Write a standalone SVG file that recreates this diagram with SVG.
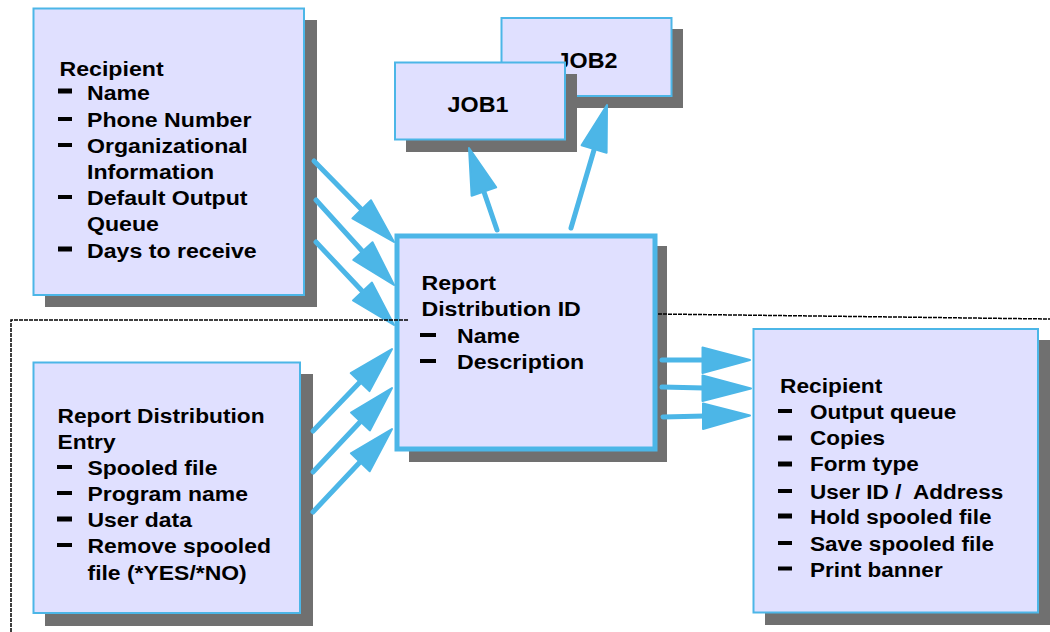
<svg xmlns="http://www.w3.org/2000/svg" width="1050" height="632" viewBox="0 0 1050 632">
<style>
.shadow{fill:#707070}
.box{fill:#E0E0FF;stroke:#4CB6E7;stroke-width:2}
.boxc{fill:#E0E0FF;stroke:#4CB6E7;stroke-width:5}
.t{font-family:"Liberation Sans",Arial,Helvetica,sans-serif;font-weight:bold;font-size:20.3px;fill:#000}
.tj{font-family:"Liberation Sans",Arial,Helvetica,sans-serif;font-weight:bold;font-size:22px;fill:#000}
.dash{fill:#000}
.ln{stroke:#4CB6E7;stroke-width:5;stroke-linecap:round;fill:none}
.hd{fill:#4CB6E7;stroke:#4CB6E7;stroke-width:2;stroke-linejoin:round}
.dl{stroke:#000;stroke-width:1.5;fill:none;stroke-dasharray:4 1}
</style>
<rect width="1050" height="632" fill="#fff"/>

<g id="recipient-top">
<rect class="shadow" x="45" y="20" width="272" height="287"/>
<rect class="box" x="33.5" y="8.5" width="270.5" height="286.5"/>
<rect class="dash" x="58" y="88.5" width="14" height="5"/>
<rect class="dash" x="58" y="117" width="14" height="4"/>
<rect class="dash" x="58" y="143" width="14" height="4"/>
<rect class="dash" x="58" y="195" width="14" height="4"/>
<rect class="dash" x="58" y="246.5" width="14" height="5"/>
<g transform="translate(59.5 0) scale(1.14 1)"><text class="t" x="0" y="76">Recipient</text></g>
<g transform="translate(87 0) scale(1.14 1)">
<text class="t" x="0" y="100">Name</text>
<text class="t" x="0" y="127">Phone Number</text>
<text class="t" x="0" y="153">Organizational</text>
<text class="t" x="0" y="179">Information</text>
<text class="t" x="0" y="205">Default Output</text>
<text class="t" x="0" y="231">Queue</text>
<text class="t" x="0" y="258">Days to receive</text>
</g>
</g>

<g id="job2">
<rect class="shadow" x="512" y="29" width="171" height="79"/>
<rect class="box" x="501.5" y="18" width="170" height="78"/>
<g transform="translate(587 0) scale(1.06 1)"><text class="tj" x="0" y="68" text-anchor="middle">JOB2</text></g>
</g>

<g id="job1">
<rect class="shadow" x="406" y="74" width="171" height="78"/>
<rect class="box" x="395" y="62.5" width="170" height="77"/>
<g transform="translate(478 0) scale(1.06 1)"><text class="tj" x="0" y="112" text-anchor="middle">JOB1</text></g>
</g>

<g id="report-distribution-id">
<rect class="shadow" x="409" y="246" width="258" height="216"/>
<rect class="boxc" x="397" y="236" width="258" height="213"/>
<rect class="dash" x="420" y="333" width="16" height="4"/>
<rect class="dash" x="420" y="359" width="16" height="4"/>
<g transform="translate(421.5 0) scale(1.14 1)">
<text class="t" x="0" y="290">Report</text>
<text class="t" x="0" y="316">Distribution ID</text>
</g>
<g transform="translate(457 0) scale(1.14 1)">
<text class="t" x="0" y="343">Name</text>
<text class="t" x="0" y="369">Description</text>
</g>
</g>

<g id="report-distribution-entry">
<rect class="shadow" x="45" y="374" width="268" height="252"/>
<rect class="box" x="33.5" y="362.5" width="266.5" height="250.5"/>
<rect class="dash" x="57" y="465" width="15" height="4"/>
<rect class="dash" x="57" y="491" width="15" height="4"/>
<rect class="dash" x="57" y="516.5" width="15" height="5"/>
<rect class="dash" x="57" y="543" width="15" height="4"/>
<g transform="translate(57.5 0) scale(1.12 1)">
<text class="t" x="0" y="423">Report Distribution</text>
<text class="t" x="0" y="449">Entry</text>
</g>
<g transform="translate(87.5 0) scale(1.13 1)">
<text class="t" x="0" y="475">Spooled file</text>
<text class="t" x="0" y="501">Program name</text>
<text class="t" x="0" y="527">User data</text>
<text class="t" x="0" y="553">Remove spooled</text>
<text class="t" x="0" y="580">file (*YES/*NO)</text>
</g>
</g>

<g id="recipient-right">
<rect class="shadow" x="765" y="340" width="285" height="285"/>
<rect class="box" x="753.5" y="329" width="284.5" height="283.5"/>
<rect class="dash" x="778" y="409" width="14" height="4"/>
<rect class="dash" x="778" y="435.5" width="14" height="5"/>
<rect class="dash" x="778" y="461.5" width="14" height="5"/>
<rect class="dash" x="778" y="489" width="14" height="4"/>
<rect class="dash" x="778" y="513.5" width="14" height="5"/>
<rect class="dash" x="778" y="541" width="14" height="4"/>
<rect class="dash" x="778" y="566.5" width="14" height="4"/>
<g transform="translate(780 0) scale(1.12 1)"><text class="t" x="0" y="393">Recipient</text></g>
<g transform="translate(810 0) scale(1.11 1)">
<text class="t" x="0" y="419">Output queue</text>
<text class="t" x="0" y="445">Copies</text>
<text class="t" x="0" y="471">Form type</text>
<text class="t" x="0" y="499" xml:space="preserve" style="white-space:pre">User ID /  Address</text>
<text class="t" x="0" y="524">Hold spooled file</text>
<text class="t" x="0" y="551">Save spooled file</text>
<text class="t" x="0" y="577">Print banner</text>
</g>
</g>

<g id="connectors">
<line class="ln" x1="314" y1="161" x2="363" y2="211"/>
<polygon class="hd" points="394,242 352.4,218.4 371,200.2"/>
<line class="ln" x1="316" y1="200" x2="364" y2="253"/>
<polygon class="hd" points="394,285 353.3,259.9 372.5,242.3"/>
<line class="ln" x1="316" y1="242" x2="364" y2="293"/>
<polygon class="hd" points="394,325 353,300.4 372,282.6"/>

<line class="ln" x1="313" y1="431" x2="361" y2="381"/>
<polygon class="hd" points="392,349 369.5,391.1 350.7,373.1"/>
<line class="ln" x1="313" y1="472" x2="361" y2="421"/>
<polygon class="hd" points="392,388 370,430.4 351,412.6"/>
<line class="ln" x1="313" y1="512" x2="361" y2="461"/>
<polygon class="hd" points="392,429 369.7,471.3 350.9,453.3"/>

<line class="ln" x1="497" y1="230" x2="484" y2="192"/>
<polygon class="hd" points="469,148 496.2,187.4 471.6,195.8"/>
<line class="ln" x1="571" y1="228" x2="594" y2="150"/>
<polygon class="hd" points="607,105 606.6,152.8 581.6,145.4"/>

<line class="ln" x1="662" y1="360" x2="704" y2="360"/>
<polygon class="hd" points="750,360 702.5,347.5 702.5,373"/>
<line class="ln" x1="662" y1="387" x2="704" y2="388"/>
<polygon class="hd" points="751,388.5 702.5,375.5 702.5,401"/>
<line class="ln" x1="663" y1="417" x2="705" y2="416"/>
<polygon class="hd" points="750,415.5 703,403.5 703,429"/>
</g>

<g id="boundaries">
<path class="dl" d="M11 632 V320 H409"/>
<path class="dl" d="M658 314 L1050 319"/>
</g>
</svg>
